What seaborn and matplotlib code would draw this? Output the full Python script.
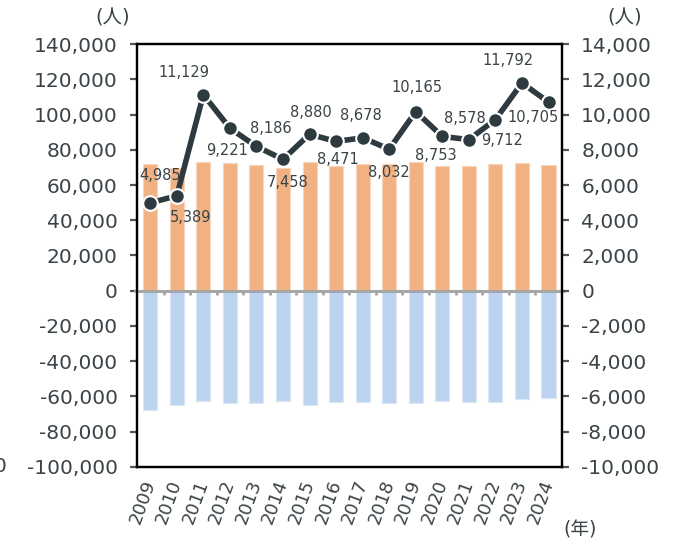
import numpy as np
import pandas as pd
import seaborn as sns
import matplotlib.pyplot as plt
from matplotlib.ticker import FuncFormatter

# data
years = ['2009', '2010', '2011', '2012', '2013', '2014', '2015', '2016',
         '2017', '2018', '2019', '2020', '2021', '2022', '2023', '2024']
inflow = [71900, 69800, 73200, 72400, 71500, 69600, 73200, 70900,
          71900, 71800, 73200, 70900, 70900, 72000, 72600, 71100]
outflow = [-67500, -65100, -62800, -63900, -63700, -62800, -65100, -63000,
           -63400, -63900, -63500, -62800, -63000, -63200, -61300, -60700]
net = [4985, 5389, 11129, 9221, 8186, 7458, 8880, 8471,
       8678, 8032, 10165, 8753, 8578, 9712, 11792, 10705]

# label offsets in points (style only)
label_offsets = [(7, 20), (10, -16), (-14, 16), (-2, -16), (10, 13), (3, -17),
                 (1, 16), (1, -13), (-1, 16), (0, -17), (1, 17), (-5, -14),
                 (-3, 15), (5, -15), (-10, 16), (-11, -11)]

text_col = '#3a4347'
line_col = '#2d3a3f'

sns.set_style('white')
plt.rcParams['font.family'] = ['DejaVu Sans', 'Noto Sans CJK JP']

df = pd.DataFrame({'year': years, 'inflow': inflow, 'outflow': outflow,
                   'net': net, 'pos': np.arange(len(years))})

fig = plt.figure(figsize=(6.89, 5.42), dpi=100)
ax = fig.add_axes([0.1988, 0.1384, 0.6166, 0.7804])

sns.barplot(data=df, x='year', y='inflow', color='#f2b183', saturation=1,
            width=0.53, edgecolor='#f8d6bd', linewidth=0.8, ax=ax)
sns.barplot(data=df, x='year', y='outflow', color='#bcd4f0', saturation=1,
            width=0.53, edgecolor='#dbe7f6', linewidth=0.8, ax=ax)

ax.set_ylim(-100000, 140000)
ax.set_xlim(-0.5, len(years) - 0.5)
ax.set_yticks(np.arange(-100000, 140001, 20000))
ax.yaxis.set_major_formatter(FuncFormatter(lambda v, p: f'{int(v):,}'))
ax.set_xlabel('')
ax.set_ylabel('')

# zero line with category boundary ticks
ax.axhline(0, color='#a6a6a6', lw=2.2, zorder=3, clip_on=False,
           xmin=-0.005, xmax=1.005)
ax.vlines(np.arange(len(years)) + 0.5, -2300, 0, color='#a6a6a6', lw=2, zorder=3)

for s in ax.spines.values():
    s.set_visible(True)
    s.set_color('black')
    s.set_linewidth(1.6)

ax.tick_params(axis='y', left=True, length=5, width=1.6, color='#555555',
               labelsize=14.5, labelcolor=text_col, pad=9)
ax.tick_params(axis='x', bottom=False, labelsize=13, labelcolor=text_col, pad=6)
for lab in ax.get_xticklabels():
    lab.set_rotation(70)
    lab.set_ha('right')
    lab.set_va('center')
    lab.set_rotation_mode('anchor')

ax2 = ax.twinx()
sns.lineplot(data=df, x='pos', y='net', color=line_col, lw=4, marker='o',
             markersize=10.5, markeredgecolor='white', markeredgewidth=1.5,
             ax=ax2, zorder=5)
ax2.set_ylim(-10000, 14000)
ax2.set_yticks(np.arange(-10000, 14001, 2000))
ax2.yaxis.set_major_formatter(FuncFormatter(lambda v, p: f'{int(v):,}'))
ax2.set_xlabel('')
ax2.set_ylabel('')
ax2.set_xlim(-0.5, len(years) - 0.5)
for s in ax2.spines.values():
    s.set_visible(True)
    s.set_color('black')
    s.set_linewidth(1.6)
ax2.tick_params(axis='y', right=True, length=5, width=1.6, color='#555555',
                labelsize=14.5, labelcolor=text_col, pad=9)

for i, v in enumerate(net):
    dx, dy = label_offsets[i]
    ax2.annotate(f'{v:,}', (i, v), xytext=(dx, dy), textcoords='offset points',
                 ha='center', va='center', fontsize=10.5, color=text_col,
                 zorder=6)

fig.text(113 / 689, 1 - 18 / 542, '(人)', ha='center', va='center',
         fontsize=14, color=text_col)
fig.text(625 / 689, 1 - 18 / 542, '(人)', ha='center', va='center',
         fontsize=14, color=text_col)
fig.text(580 / 689, 1 - 530 / 542, '(年)', ha='center', va='center',
         fontsize=13.5, color=text_col)
fig.text(-6 / 689, 1 - 467 / 542, '0', ha='left', va='center',
         fontsize=14.5, color=text_col)

fig.savefig('out.png', dpi=100)
